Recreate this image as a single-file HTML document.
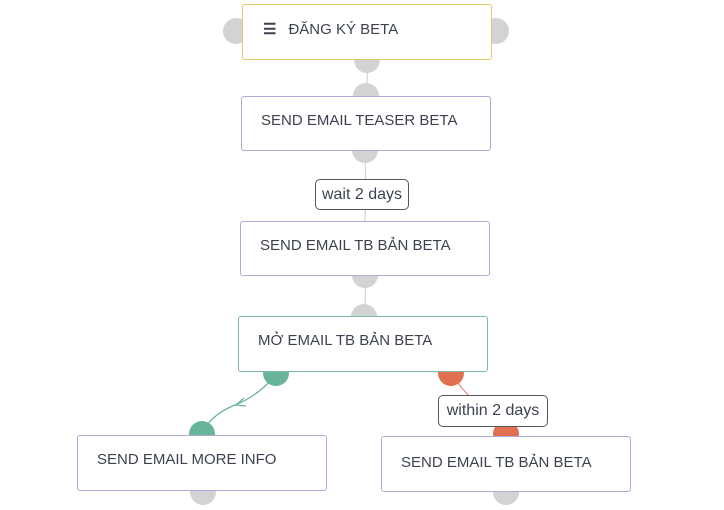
<!DOCTYPE html>
<html><head><style>
body{margin:0;width:724px;height:510px;background:#fff;position:relative;overflow:hidden;font-family:"Liberation Sans","Noto Sans CJK SC",sans-serif;}
.c{position:absolute;width:26px;height:26px;border-radius:50%;background:#d3d3d6;}
.b{position:absolute;background:#fff;border:1px solid #a9acd4;border-radius:3px;box-sizing:border-box;font-size:15px;color:#3d4250;padding:15px 0 0 19px;}
.l{position:absolute;background:#fff;border:1px solid #555;border-radius:5px;font-size:16px;color:#3d4250;box-sizing:border-box;text-align:center;line-height:30px;}
svg{position:absolute;left:0;top:0}
</style></head><body>
<svg width="724" height="510">
<path d="M367 60 Q368 80 366 96" stroke="#ccc" fill="none"/>
<path d="M365 150 Q366 190 365 221" stroke="#ccc" fill="none"/>
<path d="M365 275 Q366 300 364 317" stroke="#ccc" fill="none"/>
<path d="M276 374 Q260 395 235 405 Q210 415 202 434" stroke="#6ab39a" stroke-width="1.3" fill="none"/>
<path d="M244 398 L236 405 L246 406" stroke="#6ab39a" stroke-width="1.3" fill="none"/>
<path d="M451 374 Q470 400 506 434" stroke="#e07a60" stroke-width="1" fill="none"/>
</svg>
<div class="c" style="left:223px;top:18px"></div>
<div class="c" style="left:483px;top:18px"></div>
<div class="c" style="left:354px;top:47px"></div>
<div class="c" style="left:353px;top:83px"></div>
<div class="c" style="left:352px;top:137px"></div>
<div class="c" style="left:352px;top:262px"></div>
<div class="c" style="left:351px;top:304px"></div>
<div class="c" style="left:263px;top:360px;background:#67b49b"></div>
<div class="c" style="left:438px;top:360px;background:#e0704f"></div>
<div class="c" style="left:189px;top:421px;background:#67b49b"></div>
<div class="c" style="left:493px;top:421px;background:#e0704f"></div>
<div class="c" style="left:190px;top:479px"></div>
<div class="c" style="left:493px;top:479px"></div>
<div class="b" style="left:242px;top:4px;width:250px;height:56px;border-color:#e3c56a;padding-left:20px"><span style="font-size:15px;font-weight:bold;margin-right:12px">&#9776;</span>ĐĂNG KÝ BETA</div>
<div class="b" style="left:241px;top:96px;width:250px;height:55px">SEND EMAIL TEASER BETA</div>
<div class="b" style="left:240px;top:221px;width:250px;height:55px">SEND EMAIL TB BẢN BETA</div>
<div class="b" style="left:238px;top:316px;width:250px;height:56px;border-color:#7dba9f">MỞ EMAIL TB BẢN BETA</div>
<div class="b" style="left:77px;top:435px;width:250px;height:56px">SEND EMAIL MORE INFO</div>
<div class="b" style="left:381px;top:436px;width:250px;height:56px;padding-top:17px">SEND EMAIL TB BẢN BETA</div>
<div class="l" style="left:315px;top:179px;width:94px;height:31px">wait 2 days</div>
<div class="l" style="left:438px;top:395px;width:110px;height:32px">within 2 days</div>
</body></html>
